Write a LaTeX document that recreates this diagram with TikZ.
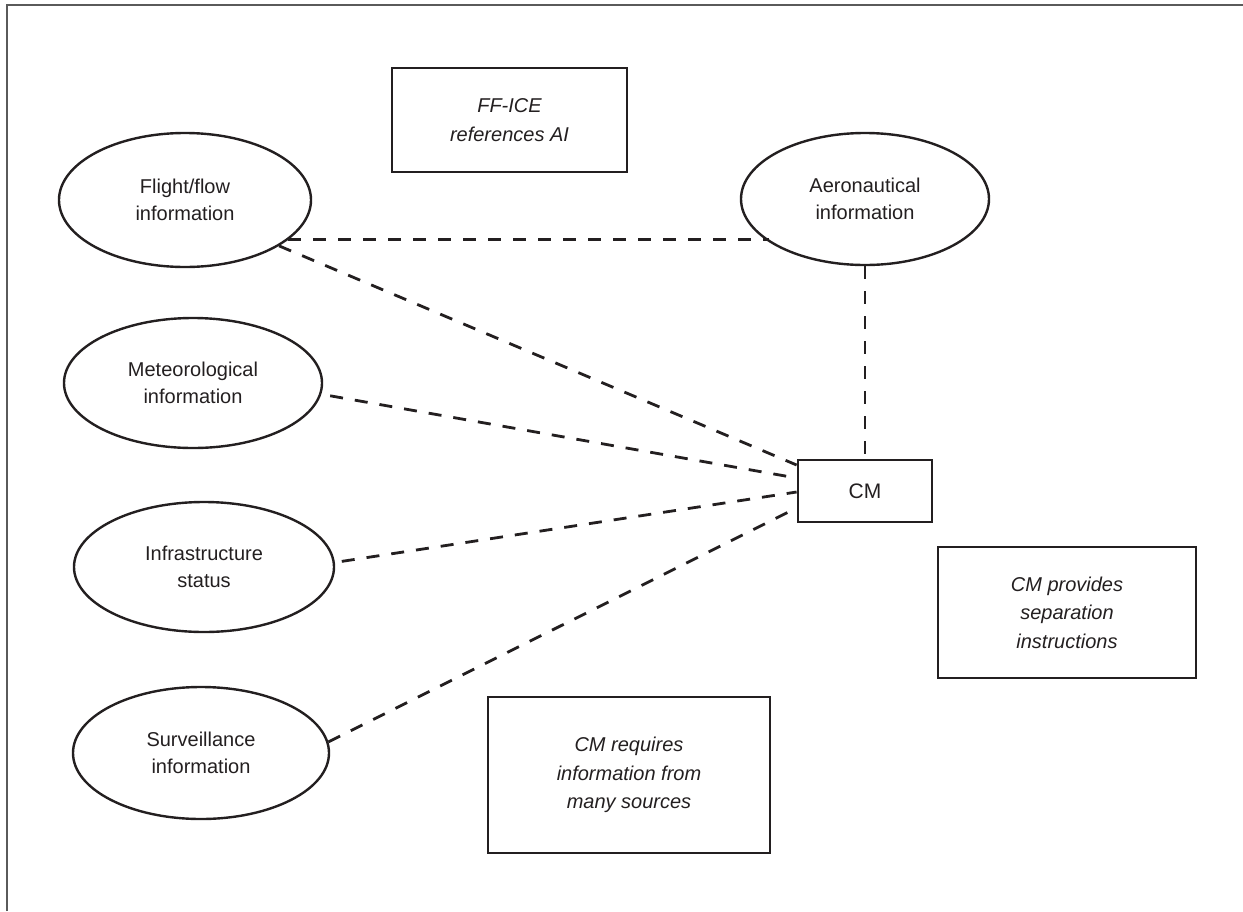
\documentclass[tikz,border=0pt]{standalone}
\usepackage{fontspec}
\setmainfont{Liberation Sans}
\usetikzlibrary{shapes.geometric}
\definecolor{ink}{HTML}{231F20}
\definecolor{framegray}{HTML}{5A5A5A}
\tikzset{
  infoell/.style={ellipse, draw=ink, line width=2.4pt, inner sep=0pt, align=center,
    text=ink, font=\fontsize{20}{27}\selectfont},
  notebox/.style={rectangle, draw=ink, line width=2.8pt, inner sep=0pt, align=center,
    text=ink, font=\fontsize{20}{28.5}\selectfont\itshape},
  cmbox/.style={rectangle, draw=ink, line width=2.8pt, inner sep=0pt, align=center,
    text=ink, font=\fontsize{21}{26}\selectfont},
  link/.style={draw=ink, line width=2.8pt, dash pattern=on 13pt off 12pt},
  framestroke/.style={draw=framegray, line width=2.2pt}
}
\begin{document}
\begin{tikzpicture}[x=1pt,y=-1pt]
\useasboundingbox (0,0) rectangle (1243,911);
\draw[framestroke] (7,911) -- (7,5) -- (1243,5);

\node[infoell, minimum width=252pt, minimum height=134pt] (flight) at (185,200) {Flight/flow\\information};
\node[infoell, minimum width=248pt, minimum height=132pt] (aero) at (865,199) {Aeronautical\\information};
\node[infoell, minimum width=258pt, minimum height=130pt] (met) at (193,383) {Meteorological\\information};
\node[infoell, minimum width=260pt, minimum height=130pt] (infra) at (204,567) {Infrastructure\\status};
\node[infoell, minimum width=256pt, minimum height=132pt] (surv) at (201,753) {Surveillance\\information};

\node[cmbox, minimum width=134pt, minimum height=62pt] (cm) at (865,491) {CM};

\node[notebox, minimum width=235pt, minimum height=104pt] (ffice) at (509.5,120) {FF-ICE\\references AI};
\node[notebox, minimum width=258pt, minimum height=131pt] (provides) at (1067,612.5) {CM provides\\separation\\instructions};
\node[notebox, minimum width=282pt, minimum height=156pt] (requires) at (629,775) {CM requires\\information from\\many sources};

\draw[link] (flight.-21.5) -- (flight.-21.5 -| aero.-156.4);
\draw[link] (aero.south) -- (cm.north);
\draw[link] (flight.-26.6) -- ([yshift=26pt]cm.west);
\draw[link, shorten <=9pt] (met.-5.8) -- ([yshift=13pt]cm.west);
\draw[link, shorten <=7pt] (infra.2) -- ([yshift=-1pt]cm.west);
\draw[link] (surv.5) -- ([yshift=-17pt]cm.west);
\end{tikzpicture}
\end{document}
